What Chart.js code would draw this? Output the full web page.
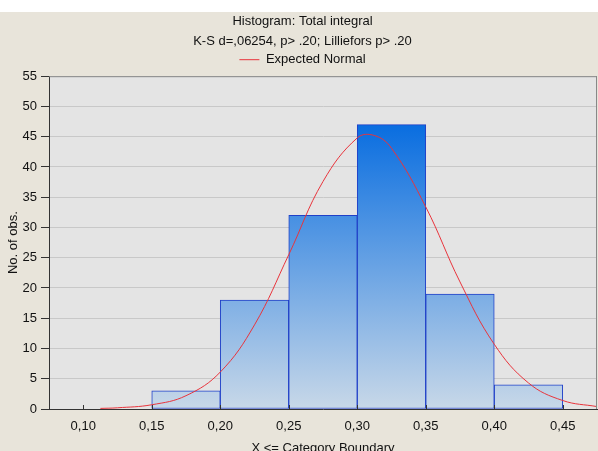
<!DOCTYPE html>
<html>
<head>
<meta charset="utf-8">
<script src="https://cdn.jsdelivr.net/npm/chart.js@4"></script>
<style>
html,body{margin:0;padding:0;background:#fff;overflow:hidden;}
canvas{display:block;}
</style>
</head>
<body>
<canvas id="c" width="598" height="451"></canvas>
<script>
// ---- data ----
const binLower = [0.15, 0.20, 0.25, 0.30, 0.35, 0.40];
const binUpper = [0.20, 0.25, 0.30, 0.35, 0.40, 0.45];
const counts   = [3, 18, 32, 47, 19, 4];
const curveX = [0.1125, 0.125, 0.15, 0.175, 0.20, 0.225, 0.25, 0.275, 0.30, 0.3125, 0.325, 0.35, 0.375, 0.40, 0.425, 0.45, 0.475];
const curveY = [0.1, 0.2, 0.7, 2.2, 6.1, 13.9, 25.5, 37.6, 44.8, 45.2, 43.1, 33.4, 21.0, 10.7, 4.3, 1.4, 0.4];
const xTicks = [0.10, 0.15, 0.20, 0.25, 0.30, 0.35, 0.40, 0.45];
const yTicks = [0, 5, 10, 15, 20, 25, 30, 35, 40, 45, 50, 55];
const titleText = 'Histogram: Total integral';
const subtitleText = 'K-S d=,06254, p> .20; Lilliefors p> .20';
const legendText = 'Expected Normal';
const xTitle = 'X <= Category Boundary';
const yTitle = 'No. of obs.';

Chart.defaults.font.family = '"Liberation Sans", Arial, sans-serif';
Chart.defaults.font.size = 13;
Chart.defaults.color = '#111';

let grad = null, gradKey = '';
function barFill(ctx) {
  const a = ctx.chart.chartArea;
  if (!a) return '#5a9be3';
  const key = a.top + '_' + a.bottom;
  if (!grad || gradKey !== key) {
    grad = ctx.chart.ctx.createLinearGradient(0, a.top, 0, a.bottom);
    grad.addColorStop(0, '#0062dc');
    grad.addColorStop(0.15, '#0a6ee0');
    grad.addColorStop(1, '#c8d8e8');
    gradKey = key;
  }
  return grad;
}

const bgPlugin = {
  id: 'bg',
  beforeDraw(chart) {
    const c = chart.ctx, a = chart.chartArea;
    c.save();
    c.fillStyle = 'rgb(232,228,218)';
    c.fillRect(0, 0, chart.width, chart.height);
    c.fillStyle = '#ffffff';
    c.fillRect(0, 0, chart.width, 12);
    c.fillStyle = '#e4e4e4';
    c.fillRect(a.left, a.top, a.right - a.left, a.bottom - a.top);
    c.restore();
  },
  afterDraw(chart) {
    const c = chart.ctx, a = chart.chartArea;
    const xs = chart.scales.x;
    c.save();
    c.strokeStyle = '#888';
    c.lineWidth = 1;
    c.beginPath();
    c.moveTo(a.left, a.top + 0.5); c.lineTo(a.right, a.top + 0.5);
    c.moveTo(a.right - 0.5, a.top); c.lineTo(a.right - 0.5, a.bottom);
    c.stroke();
    c.strokeStyle = '#333';
    c.beginPath();
    xTicks.forEach(v => {
      const px = Math.round(xs.getPixelForValue(v)) + 0.5;
      c.moveTo(px, a.bottom); c.lineTo(px, a.bottom - 4);
    });
    c.stroke();
    c.restore();
  }
};

new Chart(document.getElementById('c'), {
  data: {
    datasets: [
      {
        type: 'line',
        label: legendText,
        data: curveX.map((x, i) => ({x: x, y: curveY[i]})),
        borderColor: '#e8343c',
        backgroundColor: '#e8343c',
        borderWidth: 1,
        pointRadius: 0,
        tension: 0.4,
        order: 0
      },
      {
        type: 'bar',
        label: 'Total integral',
        data: binLower.map((lo, i) => ({x: (lo + binUpper[i]) / 2, y: counts[i]})),
        backgroundColor: barFill,
        borderColor: '#2040c8',
        borderWidth: 1,
        borderSkipped: false,
        barPercentage: 1,
        categoryPercentage: 1,
        order: 1
      }
    ]
  },
  options: {
    responsive: false,
    animation: false,
    layout: {padding: {left: 8, right: 1, top: 0, bottom: 0}},
    plugins: {
      title: {display: true, text: titleText, font: {size: 13, weight: 'normal'}, color: '#111', padding: {top: 14, bottom: 0}},
      subtitle: {display: true, text: subtitleText, font: {size: 13}, color: '#111', padding: {top: 4, bottom: 0}},
      legend: {
        display: true,
        labels: {
          filter: item => item.text === legendText,
          usePointStyle: true,
          pointStyle: 'line',
          pointStyleWidth: 20,
          padding: 4,
          color: '#111',
          font: {size: 13}
        }
      },
      tooltip: {enabled: false}
    },
    scales: {
      x: {
        type: 'linear',
        min: 0.075,
        max: 0.475,
        offset: false,
        afterBuildTicks: s => { s.ticks = xTicks.map(v => ({value: v})); },
        afterFit: s => { s.height = 42; },
        ticks: {
          callback: v => Number(v).toFixed(2).replace('.', ','),
          padding: 10,
          maxRotation: 0,
          autoSkip: false,
          color: '#111'
        },
        grid: {display: true, drawOnChartArea: false, drawTicks: false},
        border: {display: true, color: '#333'},
        title: {display: true, text: xTitle, color: '#111', font: {size: 13, lineHeight: 0.35}, padding: {top: 0, bottom: 0}}
      },
      y: {
        type: 'linear',
        min: 0,
        max: 55,
        afterBuildTicks: s => { s.ticks = yTicks.map(v => ({value: v})); },
        afterFit: s => { s.width = 41; s.paddingTop = 6; },
        ticks: {padding: 4, color: '#111'},
        grid: {color: '#c8c8c8', tickColor: '#333', tickLength: 8, drawTicks: true},
        border: {display: true, color: '#333'},
        title: {display: true, text: yTitle, color: '#111', font: {size: 13}, padding: {top: -2, bottom: 0}}
      }
    }
  },
  plugins: [bgPlugin]
});
</script>
</body>
</html>
